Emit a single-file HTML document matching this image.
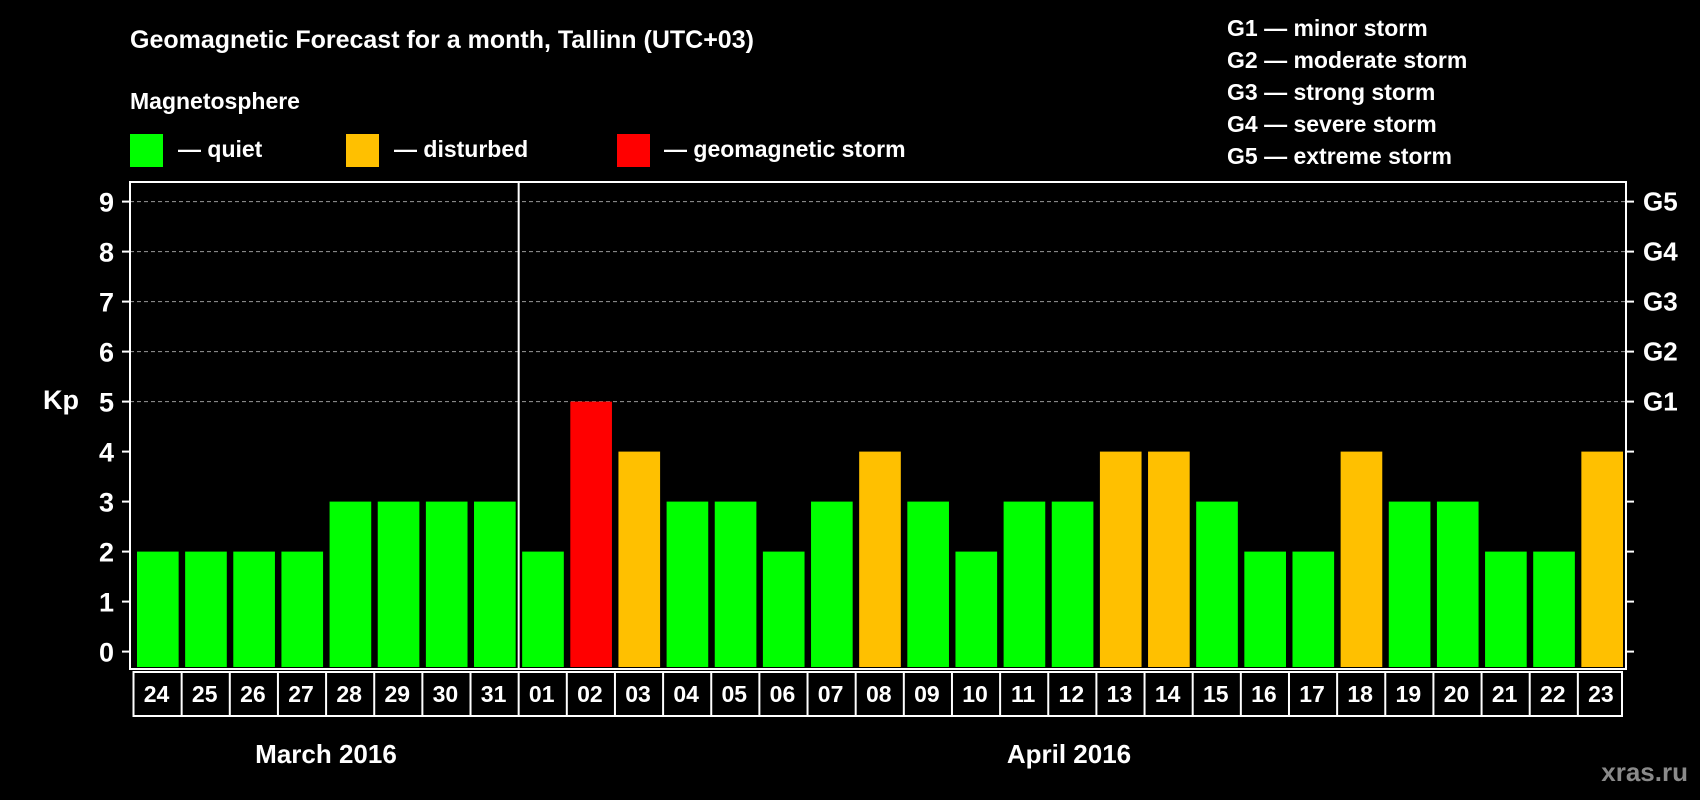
<!DOCTYPE html>
<html><head><meta charset="utf-8"><style>
body{margin:0;background:#000;}
svg{display:block;font-family:"Liberation Sans",Arial,sans-serif;font-weight:bold;}
</style></head><body>
<svg id="c" width="1700" height="800" viewBox="0 0 1700 800">
<rect width="1700" height="800" fill="#000"/>
<text x="130" y="48" fill="#fff" font-size="25">Geomagnetic Forecast for a month, Tallinn (UTC+03)</text>
<text x="130" y="109" fill="#fff" font-size="23">Magnetosphere</text>
<g><rect x="130" y="134" width="33" height="33" fill="#00ff00"/><text x="178" y="157" fill="#fff" font-size="23">— quiet</text></g>
<g><rect x="346" y="134" width="33" height="33" fill="#ffc000"/><text x="394" y="157" fill="#fff" font-size="23">— disturbed</text></g>
<g><rect x="617" y="134" width="33" height="33" fill="#ff0000"/><text x="664" y="157" fill="#fff" font-size="23">— geomagnetic storm</text></g>
<g fill="#fff" font-size="23">
<text x="1227" y="36">G1 — minor storm</text>
<text x="1227" y="68">G2 — moderate storm</text>
<text x="1227" y="100">G3 — strong storm</text>
<text x="1227" y="132">G4 — severe storm</text>
<text x="1227" y="164">G5 — extreme storm</text>
</g>
<text x="43" y="409" fill="#fff" font-size="27">Kp</text>
<text x="326" y="763" fill="#fff" font-size="26" text-anchor="middle">March 2016</text>
<text x="1069" y="763" fill="#fff" font-size="26" text-anchor="middle">April 2016</text>
<text x="1688" y="781" fill="#8a8a8a" font-size="26" text-anchor="end">xras.ru</text>
<g id="plot"></g>
</svg>
<script>
const days=["24","25","26","27","28","29","30","31","01","02","03","04","05","06","07","08","09","10","11","12","13","14","15","16","17","18","19","20","21","22","23"];
const kpValues=[2,2,2,2,3,3,3,3,2,5,4,3,3,2,3,4,3,2,3,3,4,4,3,2,2,4,3,3,2,2,4];
const yTicks=[0,1,2,3,4,5,6,7,8,9];
const gLabels=["G1","G2","G3","G4","G5"];
const gLevels=[5,6,7,8,9];
const NS="http://www.w3.org/2000/svg";
const g=document.getElementById('plot');
const L=130,R=1626,T=182,B=669,cellL=133.5,pitch=(R-cellL)/days.length;
function y(v){return 651.6-v*50;}
function x(i){return cellL+i*pitch;}
function mk(t,a){const e=document.createElementNS(NS,t);for(const k in a)e.setAttribute(k,a[k]);g.appendChild(e);return e;}
function col(v){return v>=5?"#ff0000":(v>=4?"#ffc000":"#00ff00");}
gLevels.forEach((lv,i)=>{
 const ln=mk('line',{x1:L,x2:R,y1:y(lv),y2:y(lv),stroke:"#999","stroke-width":1,"stroke-dasharray":"4,3"});
 
 
 const t=mk('text',{x:1643,y:y(lv)+9,fill:"#fff","font-size":26});
 t.textContent=gLabels[i];
 
 
});
yTicks.forEach(v=>{
 mk('line',{x1:L-8,x2:L,y1:y(v),y2:y(v),stroke:"#fff","stroke-width":2});
 mk('line',{x1:R,x2:R+8,y1:y(v),y2:y(v),stroke:"#fff","stroke-width":2});
 const t=mk('text',{x:114,y:y(v)+10,fill:"#fff","font-size":27,"text-anchor":"end"});
 t.textContent=v;
 
 
});
kpValues.forEach((v,i)=>{
 const r=mk('rect',{x:x(i)+3.5,y:y(v),width:pitch-6.5,height:B-y(v)-2,fill:col(v)});
 
 
});
const fr=mk('rect',{x:L,y:T,width:R-L,height:B-T,fill:"none",stroke:"#fff","stroke-width":2});


const dv=mk('line',{x1:x(8),x2:x(8),y1:T,y2:B,stroke:"#fff","stroke-width":2});


const bx=mk('rect',{x:cellL,y:672,width:x(days.length)-cellL-4,height:44,fill:"none",stroke:"#fff","stroke-width":2});


days.forEach((d,i)=>{
 if(i>0)mk('line',{x1:x(i),x2:x(i),y1:672,y2:716,stroke:"#fff","stroke-width":2});
 const t=mk('text',{x:x(i)+pitch/2-1,y:702,fill:"#fff","font-size":23,"text-anchor":"middle"});
 t.textContent=d;
 
 
});
</script>
</body></html>
